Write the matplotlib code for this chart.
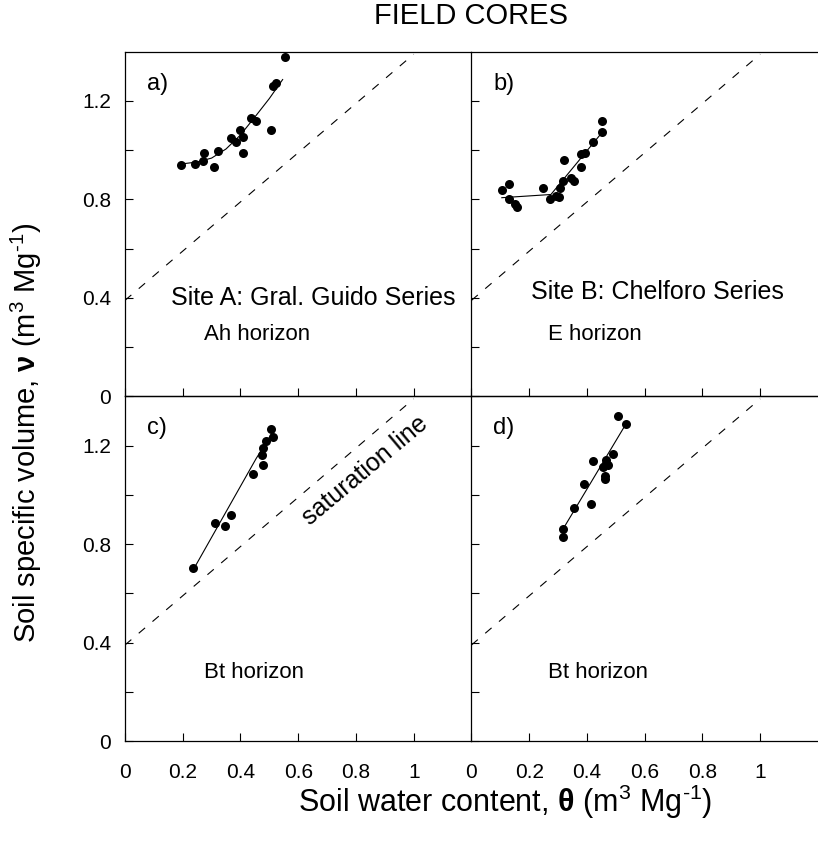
import matplotlib
matplotlib.use('Agg')
import matplotlib.pyplot as plt

plt.rcParams['font.family'] = ['Liberation Sans', 'DejaVu Sans']
plt.rcParams['mathtext.fontset'] = 'custom'
plt.rcParams['mathtext.rm'] = 'Liberation Sans'
plt.rcParams['mathtext.it'] = 'Liberation Sans:italic'
plt.rcParams['mathtext.bf'] = 'Liberation Sans:bold'
plt.rcParams['mathtext.bfit'] = 'Liberation Sans:bold'
plt.rcParams['lines.scale_dashes'] = False

# panel a) Site A, Ah horizon
a_theta = [0.195, 0.241, 0.270, 0.274, 0.307, 0.323, 0.368, 0.383, 0.397, 0.410,
           0.410, 0.437, 0.454, 0.506, 0.511, 0.523, 0.554]
a_v = [0.940, 0.944, 0.958, 0.988, 0.933, 0.997, 1.049, 1.035, 1.083, 1.052,
       0.988, 1.131, 1.120, 1.083, 1.262, 1.273, 1.378]
a_fit_theta = [0.195, 0.25, 0.30, 0.35, 0.40, 0.45, 0.50, 0.546]
a_fit_v = [0.944, 0.952, 0.968, 1.005, 1.062, 1.135, 1.210, 1.287]

# panel b) Site B, E horizon
b_theta = [0.105, 0.130, 0.130, 0.151, 0.159, 0.248, 0.271, 0.294, 0.302, 0.306,
           0.317, 0.320, 0.346, 0.355, 0.380, 0.380, 0.392, 0.421, 0.453, 0.452]
b_v = [0.838, 0.861, 0.801, 0.780, 0.770, 0.848, 0.801, 0.815, 0.811, 0.848,
       0.875, 0.961, 0.888, 0.875, 0.933, 0.984, 0.988, 1.035, 1.072, 1.120]
b_fit_theta = [0.105, 0.275, 0.455]
b_fit_v = [0.807, 0.820, 1.076]

# panel c) Site A, Bt horizon
c_theta = [0.236, 0.310, 0.345, 0.368, 0.443, 0.477, 0.475, 0.479, 0.489, 0.506, 0.514]
c_v = [0.702, 0.884, 0.875, 0.918, 1.086, 1.122, 1.163, 1.190, 1.218, 1.267, 1.236]
c_fit_theta = [0.241, 0.454, 0.506]
c_fit_v = [0.705, 1.147, 1.245]

# panel d) Site B, Bt horizon
d_theta = [0.317, 0.317, 0.355, 0.390, 0.413, 0.422, 0.455, 0.461, 0.461, 0.467,
           0.472, 0.490, 0.507, 0.536]
d_v = [0.861, 0.827, 0.946, 1.042, 0.962, 1.139, 1.113, 1.076, 1.065, 1.140,
       1.122, 1.166, 1.320, 1.286]
d_fit_theta = [0.317, 0.536]
d_fit_v = [0.861, 1.290]

# saturation line
sat_theta = [0.0, 1.0]
sat_v = [0.39, 1.39]

panel_letters = ['a)', 'b)', 'c)', 'd)']
horizons = ['Ah horizon', 'E horizon', 'Bt horizon', 'Bt horizon']

x_ticks = [0, 0.2, 0.4, 0.6, 0.8, 1.0]
x_ticklabels = ['0', '0.2', '0.4', '0.6', '0.8', '1']
y_ticks = [0, 0.2, 0.4, 0.6, 0.8, 1.0, 1.2]
y_ticklabels = ['0', '', '0.4', '', '0.8', '', '1.2']

panels = [
    (a_theta, a_v, a_fit_theta, a_fit_v),
    (b_theta, b_v, b_fit_theta, b_fit_v),
    (c_theta, c_v, c_fit_theta, c_fit_v),
    (d_theta, d_v, d_fit_theta, d_fit_v),
]

fig, axes = plt.subplots(2, 2, figsize=(8.18, 8.41), dpi=100)
fig.subplots_adjust(left=0.1528, right=1.0, top=0.9385, bottom=0.1189,
                    wspace=0, hspace=0)

for i, ax in enumerate(axes.flat):
    theta, v, fit_theta, fit_v = panels[i]
    row, col = divmod(i, 2)
    ax.patch.set_visible(False)

    ax.plot(sat_theta, sat_v, color='black', lw=0.8, linestyle=(0, (6, 7)))
    ax.plot(fit_theta, fit_v, color='black', lw=0.8)
    ax.plot(theta, v, 'o', color='black', markersize=6.5, markeredgewidth=0)

    ax.set_xlim(0, 1.2)
    ax.set_ylim(0, 1.4)
    ax.set_xticks(x_ticks)
    ax.set_yticks(y_ticks)
    ax.tick_params(direction='in', length=6, width=0.8, labelsize=15,
                   top=False, right=False)
    ax.tick_params(axis='x', pad=16)
    ax.tick_params(axis='y', pad=10)

    if row == 1:
        ax.set_xticklabels(x_ticklabels)
    else:
        ax.set_xticklabels([])
    if col == 0:
        ax.set_yticklabels(y_ticklabels)
    else:
        ax.set_yticklabels([])

    ax.spines['right'].set_visible(False)
    for s in ax.spines.values():
        s.set_linewidth(0.9)

    ax.text(0.075, 1.27, panel_letters[i], fontsize=17, va='center', ha='left')
    hz_x = 0.275 if col == 0 else 0.266
    hz_v = 0.25 if row == 0 else 0.28
    ax.text(hz_x, hz_v, horizons[i], fontsize=16, va='center', ha='left')

axes[0, 0].text(0.159, 0.398, 'Site A: Gral. Guido Series', fontsize=18,
                va='center', ha='left')
axes[0, 1].text(0.207, 0.424, 'Site B: Chelforo Series', fontsize=18,
                va='center', ha='left')
axes[1, 0].text(0.83, 1.10, 'saturation line', fontsize=18, rotation=40,
                rotation_mode='anchor', va='center', ha='center')

fig.text(0.576, 0.981, 'FIELD CORES', fontsize=21, ha='center', va='center')
fig.text(0.617, 0.046,
         r'Soil water content, $\boldsymbol{\theta}$ (m$^3$ Mg$^{\text{-1}}$)',
         fontsize=22, ha='center', va='center')
fig.text(0.032, 0.485,
         r'Soil specific volume, $\boldsymbol{\nu}$ (m$^3$ Mg$^{\text{-1}}$)',
         fontsize=21, ha='center', va='center', rotation=90)

fig.savefig('out.png', dpi=100)
